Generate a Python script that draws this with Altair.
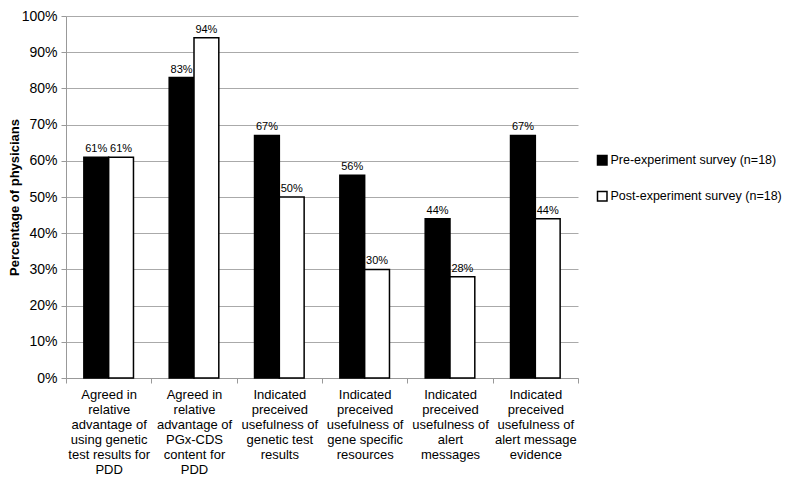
import altair as alt
import pandas as pd

categories = [
    "Agreed in|relative|advantage of|using genetic|test results for|PDD",
    "Agreed in|relative|advantage of|PGx-CDS|content for|PDD",
    "Indicated|preceived|usefulness of|genetic test|results",
    "Indicated|preceived|usefulness of|gene specific|resources",
    "Indicated|preceived|usefulness of|alert|messages",
    "Indicated|preceived|usefulness of|alert message|evidence",
]
series = ["Pre-experiment survey (n=18)", "Post-experiment survey (n=18)"]
pre_values = [61, 83, 67, 56, 44, 67]
post_values = [61, 94, 50, 30, 28, 44]
y_ticks = [0, 10, 20, 30, 40, 50, 60, 70, 80, 90, 100]

rows = []
for c, a, b in zip(categories, pre_values, post_values):
    rows.append({"cat": c, "series": series[0], "value": a / 100, "label": f"{a}%"})
    rows.append({"cat": c, "series": series[1], "value": b / 100, "label": f"{b}%"})
df = pd.DataFrame(rows)

FONT = "Liberation Sans"

x = alt.X(
    "cat:N",
    sort=categories,
    title=None,
    scale=alt.Scale(paddingInner=0, paddingOuter=0),
    axis=alt.Axis(
        labelExpr="split(datum.label, '|')",
        labelAngle=0,
        labelFontSize=13,
        labelLineHeight=15,
        labelColor="#000",
        labelFont=FONT,
        labelPadding=5,
        labelBaseline="top",
        tickBand="extent",
        tickColor="#999",
        tickSize=5,
        domainColor="#999",
        grid=False,
        labelLimit=200,
    ),
)
xoff = alt.XOffset(
    "series:N",
    sort=series,
    scale=alt.Scale(paddingInner=0, paddingOuter=0.72),
)
y = alt.Y(
    "value:Q",
    title="Percentage of physicians",
    scale=alt.Scale(domain=[0, 1], nice=False),
    axis=alt.Axis(
        values=[v / 100 for v in y_ticks],
        format=".0%",
        labelFontSize=14,
        labelFont=FONT,
        labelColor="#000",
        labelPadding=4,
        tickSize=5,
        tickColor="#999",
        domainColor="#999",
        gridColor="#aaa",
        titleFont=FONT,
        titleFontSize=13,
        titleFontWeight="bold",
        titleColor="#000",
        titleX=-45,
    ),
)
color = alt.Color(
    "series:N",
    sort=series,
    scale=alt.Scale(domain=series, range=["#000000", "#ffffff"]),
    legend=alt.Legend(
        title=None,
        orient="none",
        legendX=530,
        legendY=138,
        symbolType="square",
        symbolSize=90,
        symbolStrokeColor="#000",
        symbolStrokeWidth=1.5,
        labelFont=FONT,
        labelFontSize=12.5,
        labelColor="#000",
        labelOffset=2,
        rowPadding=20,
        labelLimit=300,
    ),
)

bars = alt.Chart(df).mark_bar(stroke="#000", strokeWidth=1.5).encode(
    x=x, xOffset=xoff, y=y, color=color
)
text = alt.Chart(df).mark_text(
    dy=-8, fontSize=11, font=FONT, color="#000"
).encode(x=x, xOffset=xoff, y=y, text="label:N")

chart = (
    (bars + text)
    .properties(
        width=512,
        height=362,
        autosize=alt.AutoSizeParams(type="none"),
        padding={"left": 58, "top": 8, "right": 214, "bottom": 104},
    )
    .configure_view(stroke=None)
    .configure_axis(labelFont=FONT)
)

chart.save("out.html", embed_options={"renderer": "svg", "actions": False})
